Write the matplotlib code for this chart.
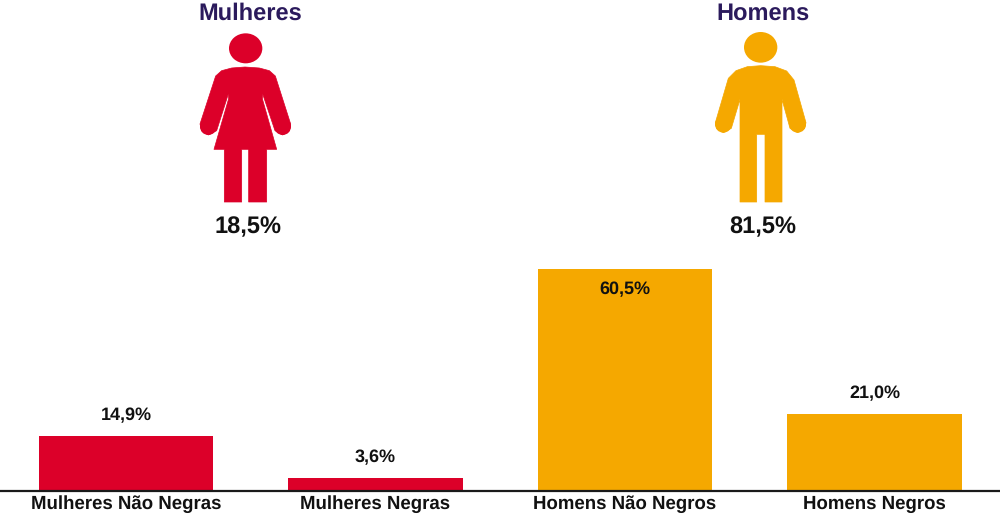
import matplotlib.pyplot as plt
from matplotlib.patches import Circle, Ellipse, Polygon

# data
categories = ["Mulheres Não Negras", "Mulheres Negras", "Homens Não Negros", "Homens Negros"]
values = [14.9, 3.6, 60.5, 21.0]
value_labels = ["14,9%", "3,6%", "60,5%", "21,0%"]
groups = ["Mulheres", "Homens"]
group_labels = ["18,5%", "81,5%"]

RED = "#DC0029"
ORANGE = "#F5A800"
NAVY = "#2B1A5C"
TEXT = "#111111"
bar_colors = [RED, RED, ORANGE, ORANGE]

# icon outlines, in pixels of a 3x crop of the icon area
woman_body = [
    (225, 201), (185, 204), (155, 212), (137, 228), (90, 372), (95, 392), (115, 405), (140, 392),
    (175, 282), (176, 296), (132, 448), (163, 448), (163, 606), (215, 606), (215, 448), (236, 448),
    (236, 606), (290, 606), (290, 448), (320, 448), (277, 296), (278, 282), (315, 392), (338, 405),
    (358, 392), (362, 372), (316, 228), (298, 212), (268, 204),
]
man_body = [
    (212, 197), (172, 200), (138, 212), (115, 235), (76, 368), (80, 385), (100, 398), (124, 385),
    (150, 298), (150, 606), (200, 606), (200, 403), (225, 403), (225, 606), (276, 606), (276, 298),
    (300, 385), (323, 398), (344, 385), (348, 368), (312, 240), (290, 213), (255, 200),
]


def to_px(points, left):
    return [(left + x / 3, y / 3) for x, y in points]


def draw_icon(ax, body, head, hands, left, color):
    ax.add_patch(Polygon(to_px(body, left), closed=True, fc=color, ec=color, lw=0.5, joinstyle="round"))
    hx, hy = to_px([head[:2]], left)[0]
    ax.add_patch(Ellipse((hx, hy), head[2] / 3 * 2, head[3] / 3 * 2, fc=color, ec="none"))
    for pt in to_px(hands, left):
        ax.add_patch(Circle(pt, 25 / 3, fc=color, ec="none"))


plt.rcParams["font.family"] = ["Liberation Sans", "DejaVu Sans"]
plt.rcParams["font.weight"] = "bold"
plt.rcParams["text.hinting"] = "no_hinting"

fig = plt.figure(figsize=(10, 5.17), dpi=100)

# bars: baseline at pixel 491, 3.67 px per percentage point
ax = fig.add_axes([0, 0, 1, 1])
ax.set_facecolor("none")
positions = list(range(len(categories)))
ax.bar(positions, values, width=0.7, color=bar_colors)
ax.set_xlim(-0.505, 3.503)
ax.set_ylim(-26 / 3.67, 491 / 3.67)
for side in ["top", "left", "right"]:
    ax.spines[side].set_visible(False)
ax.spines["bottom"].set_position("zero")
ax.spines["bottom"].set_linewidth(1.6)
ax.spines["bottom"].set_color("#1a1a1a")
ax.set_yticks([])
ax.set_xticks(positions, categories, fontsize=13.4, color=TEXT)
ax.tick_params(axis="x", length=0, pad=3.2)

for x, v, label in zip(positions, values, value_labels):
    # the tallest bar carries its label inside
    offset = -18 if v > 50 else 11.5
    ax.annotate(label, (x, v), xytext=(0, offset), textcoords="offset points",
                ha="center", va="baseline", fontsize=13, color=TEXT)

# overlay in pixel coordinates for the pictograms and headings
overlay = fig.add_axes([0, 0, 1, 1])
overlay.set_xlim(0, 1000)
overlay.set_ylim(517, 0)
overlay.axis("off")

draw_icon(overlay, woman_body, (227, 145, 50, 45), [(115, 380), (338, 380)], 170, RED)
draw_icon(overlay, man_body, (212, 142, 50, 46), [(100, 373), (323, 373)], 690, ORANGE)

for cx, name in zip([250, 763], groups):
    overlay.text(cx, 20, name, ha="center", va="baseline", fontsize=17, color=NAVY)
for cx, pct in zip([248, 763], group_labels):
    overlay.text(cx, 233, pct, ha="center", va="baseline", fontsize=17, color=TEXT)

fig.savefig("out.png", dpi=100)
